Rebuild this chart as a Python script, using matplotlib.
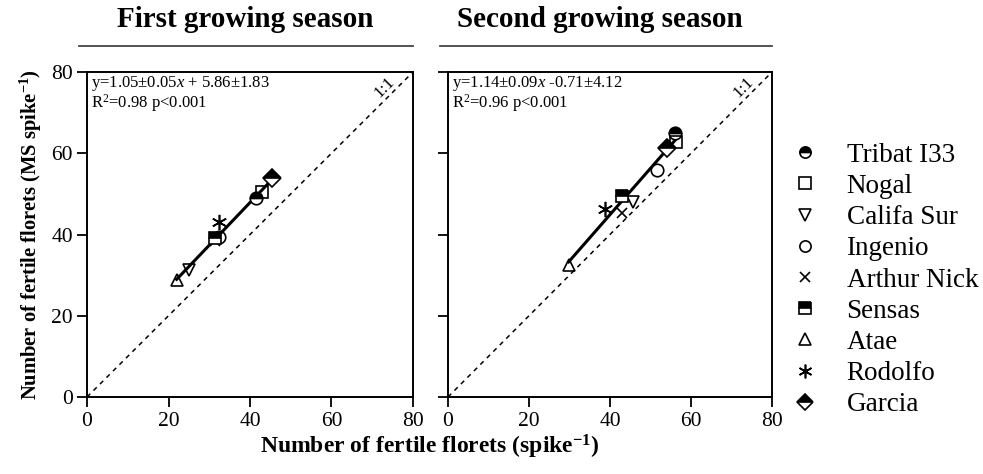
import matplotlib
matplotlib.use("Agg")
import matplotlib.pyplot as plt
import numpy as np

plt.rcParams['font.family'] = ['Liberation Serif', 'DejaVu Serif']
plt.rcParams['mathtext.fontset'] = 'custom'
plt.rcParams['mathtext.rm'] = 'Liberation Serif'
plt.rcParams['mathtext.it'] = 'Liberation Serif:italic'
plt.rcParams['mathtext.bf'] = 'Liberation Serif:bold'

cultivars = ['Tribat I33', 'Nogal', 'Califa Sur', 'Ingenio', 'Arthur Nick',
             'Sensas', 'Atae', 'Rodolfo', 'Garcia']

# fertile florets per spike (x) vs per main-stem spike (y)
season1_x = [41.5, 43.0, 25.0, 32.5, 31.5, 31.5, 22.0, 32.5, 45.5]
season1_y = [49.0, 50.5, 31.3, 39.5, 38.5, 39.2, 28.8, 43.0, 53.8]
season2_x = [56.0, 56.3, 45.8, 51.5, 43.0, 42.9, 29.8, 38.8, 54.0]
season2_y = [65.0, 62.8, 48.0, 56.0, 45.2, 49.5, 32.5, 46.2, 61.2]

fit1 = (1.05, 5.86)
fit2 = (1.14, -0.71)
eq1 = [r'y=1.05$\pm$0.05$x$ + 5.86$\pm$1.83', r'R$^2$=0.98 p<0.001']
eq2 = [r'y=1.14$\pm$0.09$x$ -0.71$\pm$4.12', r'R$^2$=0.96 p<0.001']
titles = ['First growing season', 'Second growing season']
ticks = [0, 20, 40, 60, 80]

# marker, fillstyle, size
styles = [('o', 'top', 9), ('s', 'none', 9), ('v', 'none', 9), ('o', 'none', 9),
          ('x', 'full', 7.5), ('s', 'top', 9), ('^', 'none', 9),
          ((6, 2, 0), 'full', 11), ('D', 'top', 9)]

fig = plt.figure(figsize=(9.83, 4.74), dpi=100)
ax1 = fig.add_axes([87/983, 77/474, 326/983, 325/474])
ax2 = fig.add_axes([448/983, 77/474, 324/983, 325/474])

panels = [(ax1, season1_x, season1_y, fit1, eq1, titles[0], 0.485),
          (ax2, season2_x, season2_y, fit2, eq2, titles[1], 0.47)]

for ax, xs, ys, fit, eq, title, tx in panels:
    ax.set_xlim(0, 80)
    ax.set_ylim(0, 80)
    ax.set_xticks(ticks)
    ax.set_yticks(ticks)
    ax.tick_params(direction='out', length=7, width=1.3, labelsize=15.5)
    ax.tick_params(axis='x', pad=4)
    ax.tick_params(axis='y', pad=3)
    for sp in ax.spines.values():
        sp.set_linewidth(1.4)

    ax.plot([0, 80], [0, 80], ls=(0, (3, 3)), color='black', lw=1.1)
    ax.text(73.0, 76.2, '1:1', rotation=45, ha='center', va='center', fontsize=12.5)

    xf = np.array([min(xs), max(xs)])
    ax.plot(xf, fit[0] * xf + fit[1], color='black', lw=2.2, zorder=2)

    for i, name in enumerate(cultivars):
        m, fs, ms = styles[i]
        ax.plot(xs[i], ys[i], linestyle='none', marker=m, fillstyle=fs,
                markersize=ms, markeredgewidth=1.2, color='black',
                markerfacecolor='black', markerfacecoloralt='white',
                label=name, zorder=3)

    ax.text(0.012, 0.995, eq[0], transform=ax.transAxes, ha='left', va='top', fontsize=12)
    ax.text(0.012, 0.938, eq[1], transform=ax.transAxes, ha='left', va='top', fontsize=12)

    # title with rule underneath
    ax.text(tx, 1.162, title, transform=ax.transAxes, ha='center', va='center',
            fontsize=21, fontweight='bold')
    ax.plot([-0.025, 1.0], [1.08, 1.08], transform=ax.transAxes, color='#444444',
            lw=1.3, clip_on=False)

ax2.tick_params(labelleft=False)

ax1.set_ylabel(r'Number of fertile florets (MS spike$^{\mathbf{-1}}$)',
               fontsize=14.8, fontweight='bold', labelpad=5)
fig.text(430/983, 1 - 447/474, r'Number of fertile florets (spike$^{\mathbf{-1}}$)',
         ha='center', va='center', fontsize=17, fontweight='bold')

handles, labels = ax1.get_legend_handles_labels()
fig.legend(handles, labels, loc='center left', bbox_to_anchor=(791/983, 1 - 280/474),
           frameon=False, fontsize=19.5, handlelength=1.0, handletextpad=1.05,
           labelspacing=0.23, borderaxespad=0, borderpad=0, markerscale=0.9)

fig.savefig('out.png', dpi=100)
